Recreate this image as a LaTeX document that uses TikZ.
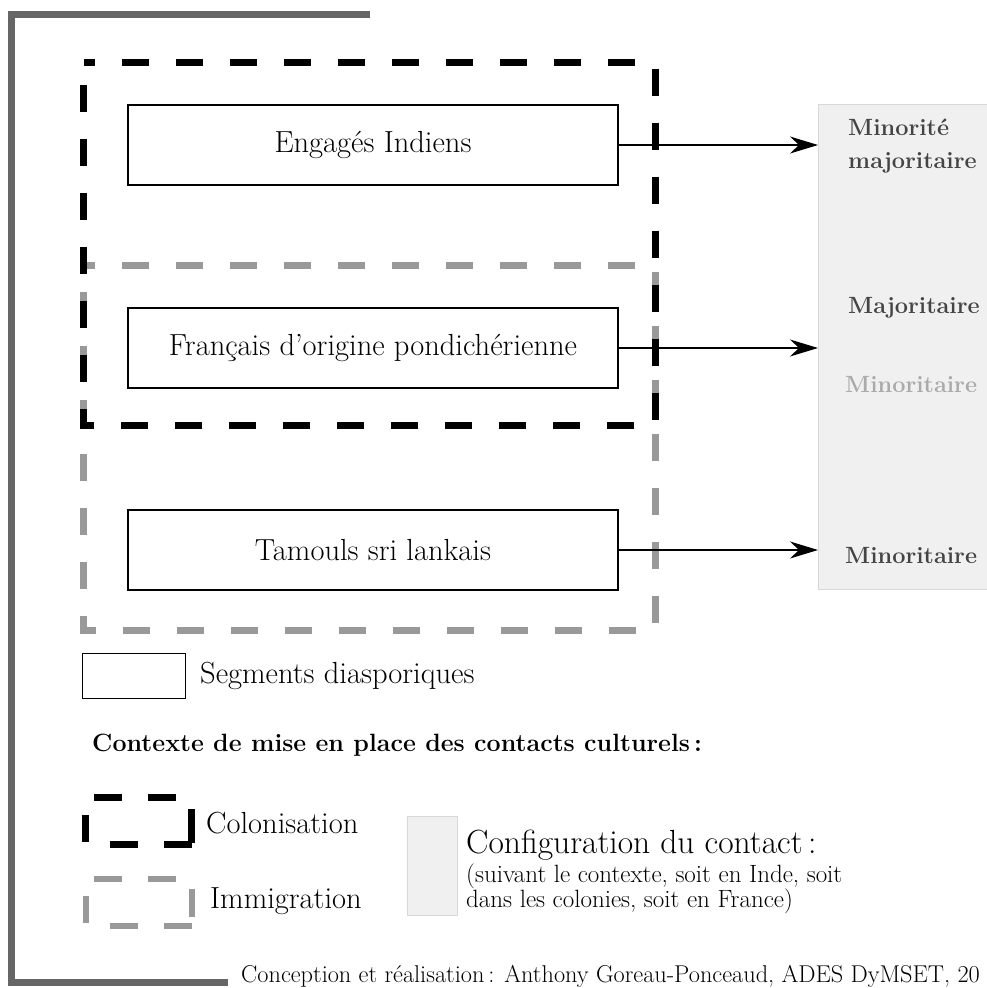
\documentclass[tikz,border=0pt]{standalone}
\usetikzlibrary{arrows.meta}
\usetikzlibrary{positioning}

\definecolor{framegray}{HTML}{666666}
\definecolor{immigray}{HTML}{999999}
\definecolor{panelfill}{HTML}{F0F0F0}
\definecolor{paneldraw}{HTML}{D8D8D8}
\definecolor{labeldark}{HTML}{444444}
\definecolor{labellight}{HTML}{AAAAAA}

\newcommand{\segfont}{\fontsize{30.5}{36}\selectfont}
\newcommand{\lblfont}{\fontsize{23.5}{28}\selectfont\bfseries}
\newcommand{\headfont}{\fontsize{25}{30}\selectfont\bfseries}
\newcommand{\cfgfont}{\fontsize{33.5}{38}\selectfont}
\newcommand{\notefont}{\fontsize{25}{30}\selectfont}
\newcommand{\creditfont}{\fontsize{24.3}{29}\selectfont}

\tikzset{
	segment/.style={draw, line width=1.3pt, minimum width=490pt,
		minimum height=80pt, inner sep=0pt, font=\segfont},
	colo/.style={draw=black, line width=7pt,
		dash pattern=on 27pt off 27pt, dash phase=15.5pt},
	immi/.style={draw=immigray, line width=7pt,
		dash pattern=on 27pt off 27pt, dash phase=15.5pt},
	contact/.style={-{Stealth[length=28pt,width=17pt,inset=9pt]},
		line width=1.3pt},
	config/.style={anchor=base west, inner sep=0pt, font=\lblfont,
		text=labeldark},
	legend/.style={anchor=base west, inner sep=0pt, font=\segfont}
}

\begin{document}
\begin{tikzpicture}[x=1pt,y=-1pt]
		\useasboundingbox (0,0) rectangle (986,988);
		% Grey frame on the left side
		\draw[framegray, line width=7pt] (370,14.5) -- (11.5,14.5)
			-- (11.5,982.5) -- (228,982.5);

		% Contexts: immigration first, colonisation on top
		\draw[immi] (83.5,265) -- (655.5,265) -- (655.5,630)
			-- (83.5,630) -- cycle;
		\draw[colo] (83.5,62) -- (655.5,62) -- (655.5,425)
			-- (83.5,425) -- cycle;

		% The three diasporic segments
		\node[segment] (engages) at (373,145) {Engagés Indiens};
		\node[segment] (francais) at (373,348) {Français d'origine pondichérienne};
		\node[segment] (tamouls) at (373,550) {Tamouls sri lankais};

		% Configuration of the contact
		\node[draw=paneldraw, fill=panelfill, line width=1pt, inner sep=0pt,
			minimum width=190pt, minimum height=485pt, anchor=north west]
			(panel) at (818,104) {};
		\node[config] (minmaj) at (848,135) {Minorité};
		\node[config] (minmaj2) at (848,168) {majoritaire};
		\node[config] (maj) at (848,313) {Majoritaire};
		\node[config, text=labellight] (minfr) at (845,392) {Minoritaire};
		\node[config] (min) at (845,563) {Minoritaire};

		\draw[contact] (engages.east) -- (engages -| panel.west);
		\draw[contact] (francais.east) -- (francais -| panel.west);
		\draw[contact] (tamouls.east) -- (tamouls -| panel.west);

		% Legend
		\node[draw, line width=1.3pt, minimum width=103pt, minimum height=45pt,
			inner sep=0pt, anchor=north west] (segkey) at (82,653) {};
		\node[legend] (segtext) at (200,683) {Segments diasporiques};

		\node[anchor=base west, inner sep=0pt, font=\headfont] (context)
			at (92,751) {Contexte de mise en place des contacts culturels\,:};

		% Dashed squares of the legend
		\draw[black, line width=7pt] (94,797) -- (122,797) (148,797) -- (176,797)
			(191.5,809) -- (191.5,843) (192,844.5) -- (164,844.5)
			(138,844.5) -- (110,844.5) (85.5,842) -- (85.5,815);
		\node[legend] (colotext) at (206,833) {Colonisation};

		\draw[immigray, line width=6pt] (94,878.5) -- (122,878.5)
			(148,878.5) -- (176,878.5) (191.5,889) -- (191.5,917)
			(192,925.5) -- (164,925.5) (138,925.5) -- (110,925.5)
			(85.5,923) -- (85.5,896);
		\node[legend] (immitext) at (210,908) {Immigration};

		\node[draw=paneldraw, fill=panelfill, line width=1pt, inner sep=0pt,
			minimum width=50pt, minimum height=99pt, anchor=north west]
			(panelkey) at (407,816) {};
		\node[anchor=base west, inner sep=0pt, font=\cfgfont] (configtext)
			at (466,853) {Configuration du contact\,:};
		\node[anchor=base west, inner sep=0pt, font=\notefont, align=left]
			(note1) at (466,882) {(suivant le contexte, soit en Inde, soit};
		\node[anchor=base west, inner sep=0pt, font=\notefont, align=left]
			(note2) at (466,907) {dans les colonies, soit en France)};

		% Credits along the bottom edge
		\node[anchor=base west, inner sep=0pt, font=\creditfont] (credit)
			at (241,982) {Conception et réalisation\,: Anthony Goreau-Ponceaud, ADES DyMSET, 20};
	\end{tikzpicture}
\end{document}
